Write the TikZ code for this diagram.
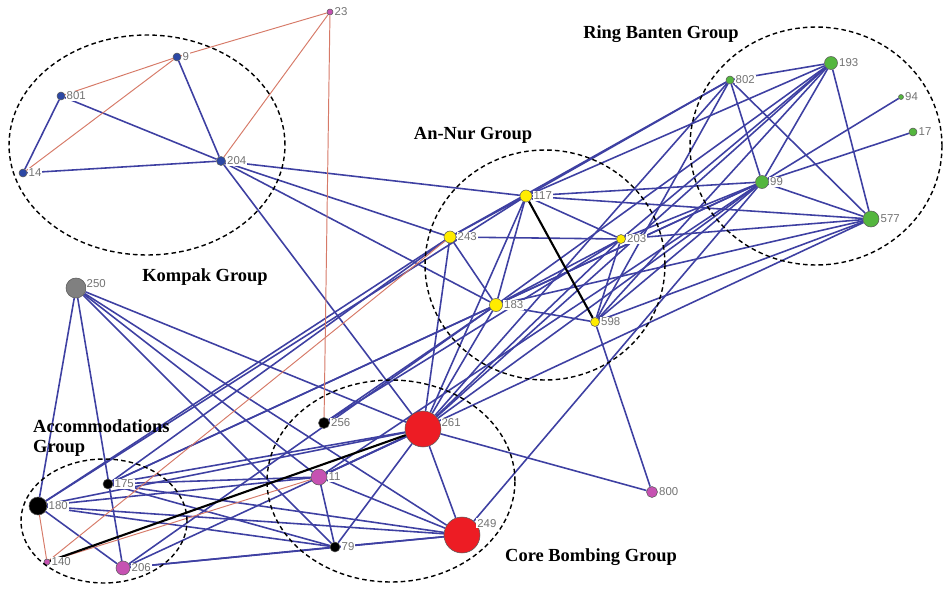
\documentclass[tikz,border=0pt]{standalone}
\usepackage{fontspec}
\setmainfont{Liberation Serif}
\setsansfont{Liberation Sans}
\usetikzlibrary{positioning, backgrounds}

\definecolor{edgeblue}{RGB}{62,64,162}
\definecolor{edgered}{RGB}{214,122,104}
\definecolor{nblue}{RGB}{44,72,165}
\definecolor{nyellow}{RGB}{255,236,0}
\definecolor{ngreen}{RGB}{84,182,62}
\definecolor{npurple}{RGB}{198,82,178}
\definecolor{nred}{RGB}{237,28,36}
\definecolor{ngray}{RGB}{128,128,128}

\begin{document}
\begin{tikzpicture}[x=0.02cm, y=-0.02cm,
        vertex/.style={circle, draw=black!65, line width=0.3pt, inner sep=0pt},
        kompak/.style={vertex, fill=nblue},
        annur/.style={vertex, fill=nyellow},
        banten/.style={vertex, fill=ngreen},
        member/.style={vertex, fill=npurple},
        core/.style={vertex, fill=nred},
        dark/.style={vertex, fill=black},
        lbl/.style={font=\sffamily\fontsize{6.5}{7}\selectfont, text=black!55, fill=white, inner sep=0.6pt},
        link/.style={edgeblue, line width=0.9pt},
        tie/.style={edgered, line width=0.55pt},
        strong/.style={black, line width=1.2pt},
        group/.style={draw=black, line width=0.8pt, dash pattern=on 2.6pt off 1.8pt},
        grplbl/.style={font=\bfseries\fontsize{10.5}{11.5}\selectfont}
    ]
        \useasboundingbox (0,0) rectangle (944,589);

        % Nodes
        \node[member, minimum size=1.2mm, label={[lbl]right:23}] (n23) at (330,12) {};
        \node[kompak, minimum size=1.6mm, label={[lbl]right:9}] (n9) at (177,57) {};
        \node[kompak, minimum size=1.6mm, label={[lbl]right:801}] (n801) at (61,96) {};
        \node[kompak, minimum size=1.6mm, label={[lbl]right:14}] (n14) at (23,173) {};
        \node[kompak, minimum size=1.8mm, label={[lbl]right:204}] (n204) at (221,161) {};
        \node[vertex, fill=ngray, minimum size=4mm, label={[lbl,anchor=west]25:250}] (n250) at (76,288) {};

        \node[annur, minimum size=2.4mm, label={[lbl]right:117}] (n117) at (526,196) {};
        \node[annur, minimum size=2.4mm, label={[lbl]right:243}] (n243) at (450,237) {};
        \node[annur, minimum size=1.8mm, label={[lbl]right:203}] (n203) at (621,239) {};
        \node[annur, minimum size=2.6mm, label={[lbl]right:183}] (n183) at (496,305) {};
        \node[annur, minimum size=1.8mm, label={[lbl]right:598}] (n598) at (595,322) {};

        \node[banten, minimum size=1.6mm, label={[lbl]right:802}] (n802) at (730,80) {};
        \node[banten, minimum size=2.6mm, label={[lbl]right:193}] (n193) at (831,63) {};
        \node[banten, minimum size=1mm, label={[lbl]right:94}] (n94) at (901,97) {};
        \node[banten, minimum size=1.6mm, label={[lbl]right:17}] (n17) at (913,132) {};
        \node[banten, minimum size=2.6mm, label={[lbl]right:99}] (n99) at (762,182) {};
        \node[banten, minimum size=3.2mm, label={[lbl]right:577}] (n577) at (871,219) {};

        \node[dark, minimum size=2.2mm, label={[lbl]right:256}] (n256) at (324,423) {};
        \node[core, minimum size=7.2mm, label={[lbl,anchor=west]20:261}] (n261) at (423,429) {};
        \node[member, minimum size=3.2mm, label={[lbl]right:11}] (n11) at (319,477) {};
        \node[core, minimum size=7.2mm, label={[lbl,anchor=west]40:249}] (n249) at (462,535) {};
        \node[dark, minimum size=2mm, label={[lbl]right:79}] (n79) at (335,547) {};
        \node[member, minimum size=2.2mm, label={[lbl]right:800}] (n800) at (652,492) {};

        \node[dark, minimum size=2mm, label={[lbl]right:175}] (n175) at (108,484) {};
        \node[dark, minimum size=3.6mm, label={[lbl]right:180}] (n180) at (38,506) {};
        \node[member, minimum size=1.2mm, label={[lbl]right:140}] (n140) at (47,562) {};
        \node[member, minimum size=2.8mm, label={[lbl]right:206}] (n206) at (123,568) {};

        % Group labels
        \node[grplbl] (kompak) at (205,277) {Kompak Group};
        \node[grplbl] (annur) at (473,135) {An-Nur Group};
        \node[grplbl] (banten) at (661,34) {Ring Banten Group};
        \node[grplbl, align=left, anchor=north west] (accom) at (27,413) {Accommodations\\Group};
        \node[grplbl] (bombing) at (591,557) {Core Bombing Group};

        \begin{pgfonlayer}{background}
        % Edges
        \foreach \a/\b in {n801/n14, n801/n204, n9/n204, n14/n204, n204/n117, n204/n243, n204/n183, n204/n261,
                n250/n180, n250/n206, n250/n261, n250/n249, n250/n79, n250/n11,
                n180/n206, n180/n261, n180/n11, n180/n249, n180/n79, n180/n243, n180/n117,
                n175/n261, n175/n11, n175/n249, n175/n243, n175/n183, n175/n79, n175/n99,
                n206/n79, n206/n249, n206/n261, n206/n183,
                n261/n249, n261/n79, n261/n11, n261/n800, n11/n79, n11/n249, n79/n249,
                n249/n99, n256/n183, n256/n203, n11/n99, n11/n577,
                n261/n117, n261/n243, n261/n183, n261/n203, n261/n802, n261/n193, n261/n99,
                n117/n243, n117/n183, n117/n203, n243/n203, n243/n183, n183/n598, n183/n203,
                n598/n800, n203/n598,
                n117/n802, n117/n193, n117/n99, n117/n577, n243/n802, n203/n99, n203/n577, n203/n193,
                n183/n193, n183/n99, n183/n577, n598/n99, n598/n577, n598/n193, n598/n802,
                n802/n193, n802/n99, n802/n577, n193/n99, n193/n577, n99/n577, n99/n94, n99/n17}
            \draw[link] (\a) -- (\b);

        \foreach \a/\b in {n801/n9, n9/n23, n14/n9, n204/n23, n23/n256, n180/n140, n140/n243, n140/n11}
            \draw[tie] (\a) -- (\b);

        \draw[strong] (n117) -- (n598);
        \draw[strong] (n140) -- (n261);
        \end{pgfonlayer}

        % Groups
        \draw[group] (147,145) ellipse [x radius=2.76cm, y radius=2.2cm];
        \draw[group] (545,265) ellipse [x radius=2.4cm, y radius=2.3cm];
        \draw[group] (816,146) ellipse [x radius=2.52cm, y radius=2.38cm];
        \draw[group] (391,481) ellipse [x radius=2.48cm, y radius=2.02cm];
        \draw[group] (104,521) ellipse [x radius=1.66cm, y radius=1.24cm];

    \end{tikzpicture}
\end{document}
